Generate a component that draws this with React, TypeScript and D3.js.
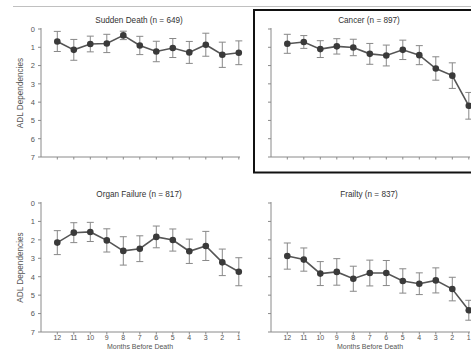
import React from "react";
import * as d3 from "d3";

const months = [12, 11, 10, 9, 8, 7, 6, 5, 4, 3, 2, 1];
const yTicks = [0, 1, 2, 3, 4, 5, 6, 7];

const titles = ["Sudden Death (n = 649)", "Cancer (n = 897)", "Organ Failure (n = 817)", "Frailty (n = 837)"];

const suddenMean = [0.68, 1.14, 0.82, 0.79, 0.35, 0.9, 1.23, 1.04, 1.28, 0.86, 1.41, 1.3];
const suddenErr = [0.55, 0.57, 0.43, 0.5, 0.23, 0.5, 0.56, 0.52, 0.6, 0.63, 0.69, 0.65];
const cancerMean = [0.81, 0.71, 1.1, 0.95, 1.01, 1.36, 1.45, 1.14, 1.43, 2.16, 2.55, 4.2];
const cancerErr = [0.52, 0.35, 0.46, 0.42, 0.45, 0.57, 0.57, 0.53, 0.52, 0.64, 0.7, 0.73];
const organMean = [2.15, 1.61, 1.57, 2.03, 2.6, 2.48, 1.84, 2.01, 2.62, 2.33, 3.22, 3.73];
const organErr = [0.65, 0.54, 0.52, 0.63, 0.77, 0.7, 0.59, 0.6, 0.66, 0.79, 0.72, 0.76];
const frailMean = [2.88, 3.07, 3.83, 3.74, 4.11, 3.8, 3.8, 4.23, 4.38, 4.2, 4.67, 5.82];
const frailErr = [0.71, 0.63, 0.65, 0.72, 0.68, 0.7, 0.68, 0.66, 0.59, 0.68, 0.64, 0.54];

const means = [suddenMean, cancerMean, organMean, frailMean];
const errs = [suddenErr, cancerErr, organErr, frailErr];

const FONT = "'Liberation Sans', Arial, sans-serif";

function Panel({ idx, ax, top, bottom, yLabels, xLabels }: any) {
  const x = d3.scaleLinear().domain([12, 1]).range([ax + 16.3, ax + 197.8]);
  const y = d3.scaleLinear().domain([0, 7]).range([top, bottom]);
  const m = means[idx];
  const e = errs[idx];
  const line = d3.line<number>().x((_, i) => x(months[i])).y((d) => y(d));
  const axisColor = "#8a8a8a";
  return (
    <g>
      <text x={ax + 98} y={top - 6} fontSize={8.2} fill="#333" textAnchor="middle" fontFamily={FONT}>
        {titles[idx]}
      </text>
      <line x1={ax} x2={ax} y1={top - 1} y2={bottom} stroke={axisColor} strokeWidth={1} />
      <line x1={ax} x2={ax + 199} y1={bottom} y2={bottom} stroke={axisColor} strokeWidth={1} />
      {yTicks.map((t) => (
        <g key={t}>
          <line x1={ax - 3} x2={ax} y1={y(t)} y2={y(t)} stroke={axisColor} />
          {yLabels && (
            <text x={ax - 6} y={y(t) + 2.8} fontSize={7.5} fill="#555" textAnchor="end" fontFamily={FONT}>
              {t}
            </text>
          )}
        </g>
      ))}
      {months.map((mo) => (
        <g key={mo}>
          <line x1={x(mo)} x2={x(mo)} y1={bottom} y2={bottom + 2.5} stroke={axisColor} />
          {xLabels && (
            <text x={x(mo)} y={bottom + 8.2} fontSize={7} fill="#555" textAnchor="middle" fontFamily={FONT}>
              {mo}
            </text>
          )}
        </g>
      ))}
      {yLabels && (
        <text
          transform={`translate(${ax - 18},${(top + bottom) / 2}) rotate(-90)`}
          fontSize={8.2}
          fill="#555"
          textAnchor="middle"
          fontFamily={FONT}
        >
          ADL Dependencies
        </text>
      )}
      {xLabels && (
        <text x={ax + 99} y={348.6} fontSize={7} fill="#555" textAnchor="middle" fontFamily={FONT}>
          Months Before Death
        </text>
      )}
      {m.map((v, i) => {
        const cx = x(months[i]);
        return (
          <g key={i} stroke="#888" strokeWidth={1}>
            <line x1={cx} x2={cx} y1={y(v - e[i])} y2={y(v + e[i])} />
            <line x1={cx - 3.5} x2={cx + 3.5} y1={y(v - e[i])} y2={y(v - e[i])} />
            <line x1={cx - 3.5} x2={cx + 3.5} y1={y(v + e[i])} y2={y(v + e[i])} />
          </g>
        );
      })}
      <path d={line(m) || ""} fill="none" stroke="#555" strokeWidth={1.6} />
      {m.map((v, i) => (
        <circle key={i} cx={x(months[i])} cy={y(v)} r={3.3} fill="#3a3a3a" />
      ))}
    </g>
  );
}

export default function App() {
  return (
    <svg width={471} height={349} style={{ position: "absolute", left: 0, top: 0, background: "#fff" }}>
      <rect width={471} height={349} fill="#fff" />
      <line x1={13} x2={471} y1={6.5} y2={6.5} stroke="#c0c0c0" strokeWidth={1} />
      <rect x={254} y={10} width={222} height={162.5} fill="none" stroke="#111" strokeWidth={2} />
      <Panel idx={0} ax={41} top={29} bottom={157} yLabels={true} xLabels={false} />
      <Panel idx={1} ax={271} top={29} bottom={157} yLabels={false} xLabels={false} />
      <Panel idx={2} ax={41} top={203} bottom={332} yLabels={true} xLabels={true} />
      <Panel idx={3} ax={271} top={203} bottom={332} yLabels={false} xLabels={true} />
    </svg>
  );
}
